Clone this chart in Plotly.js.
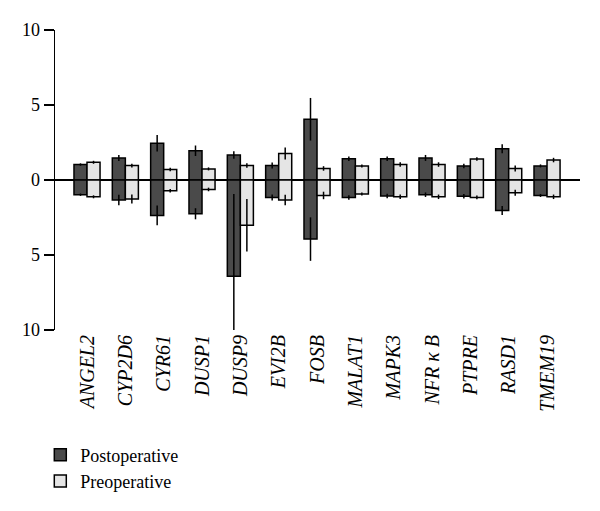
<!DOCTYPE html>
<html>
<head>
<meta charset="utf-8">
<script src="https://cdn.plot.ly/plotly-3.0.1.min.js"></script>
<style>html,body{margin:0;padding:0;background:#fff;}#chart{width:600px;height:511px;}</style>
</head>
<body>
<div id="chart"></div>
<script>
const genes = ['ANGEL2','CYP2D6','CYR61','DUSP1','DUSP9','EVI2B','FOSB','MALAT1','MAPK3','NFR κ B','PTPRE','RASD1','TMEM19'];
const postUp = [1.03, 1.47, 2.45, 1.95, 1.66, 0.96, 4.05, 1.42, 1.42, 1.47, 0.94, 2.08, 0.94];
const postUpErr = [0.08, 0.2, 0.55, 0.35, 0.25, 0.2, 1.42, 0.15, 0.15, 0.2, 0.15, 0.3, 0.1];
const postDown = [-0.98, -1.33, -2.36, -2.25, -6.41, -1.16, -3.94, -1.16, -1.07, -0.98, -1.09, -2.03, -1.03];
const postDownErr = [0.08, 0.35, 0.66, 0.37, 5.47, 0.2, 1.45, 0.15, 0.15, 0.15, 0.15, 0.3, 0.1];
const preUp = [1.18, 0.96, 0.7, 0.74, 0.96, 1.77, 0.77, 0.94, 1.03, 1.03, 1.40, 0.77, 1.33];
const preUpErr = [0.1, 0.12, 0.12, 0.1, 0.15, 0.4, 0.15, 0.1, 0.15, 0.15, 0.12, 0.2, 0.15];
const preDown = [-1.12, -1.27, -0.72, -0.63, -3.02, -1.33, -1.03, -0.94, -1.12, -1.12, -1.16, -0.85, -1.12];
const preDownErr = [0.1, 0.3, 0.12, 0.12, 1.75, 0.35, 0.25, 0.1, 0.15, 0.15, 0.12, 0.2, 0.15];
const yTickVals = [-10, -5, 0, 5, 10];
const yTickText = ['10', '5', '0', '5', '10'];

const darkColor = '#4a4a4a';
const lightColor = '#e5e5e5';
const serif = 'Liberation Serif, DejaVu Serif, serif';

function mk(name, y, err, color, group, show) {
  return {
    type: 'bar', name: name, x: genes, y: y, offsetgroup: group,
    showlegend: show, legendgroup: group,
    marker: {color: color, line: {color: '#000', width: 1.5}},
    error_y: {type: 'data', array: err, visible: true, color: '#000', thickness: 1.5, width: 0}
  };
}
const data = [
  mk('Postoperative', postUp, postUpErr, darkColor, 'post', true),
  mk('Preoperative', preUp, preUpErr, lightColor, 'pre', true),
  mk('Postoperative', postDown, postDownErr, darkColor, 'post', false),
  mk('Preoperative', preDown, preDownErr, lightColor, 'pre', false)
];
const layout = {
  width: 600, height: 511,
  margin: {l: 55, r: 20, t: 30, b: 177},
  paper_bgcolor: '#fff', plot_bgcolor: '#fff',
  barmode: 'group', bargap: 0.32, bargroupgap: 0,
  font: {family: serif, color: '#000'},
  xaxis: {
    range: [-0.835, 12.86], showgrid: false, zeroline: false, showline: false,
    ticks: '', tickangle: -90, tickfont: {family: serif, size: 20, style: 'italic'},
    automargin: false
  },
  yaxis: {
    range: [-10, 10], tickvals: yTickVals, ticktext: yTickText,
    showgrid: false, zeroline: true, zerolinecolor: '#000', zerolinewidth: 1.5,
    showline: true, linecolor: '#000', linewidth: 1.5,
    ticks: 'outside', ticklen: 10, tickwidth: 1.5, tickcolor: '#000',
    tickfont: {family: serif, size: 18}, automargin: false
  },
  legend: {
    x: -0.028, y: -0.355, xanchor: 'left', yanchor: 'top',
    font: {family: serif, size: 18}, bgcolor: 'rgba(0,0,0,0)',
    tracegroupgap: 0, itemwidth: 30
  },
  showlegend: true
};
Plotly.newPlot('chart', data, layout, {displayModeBar: false, staticPlot: true});
</script>
</body>
</html>
